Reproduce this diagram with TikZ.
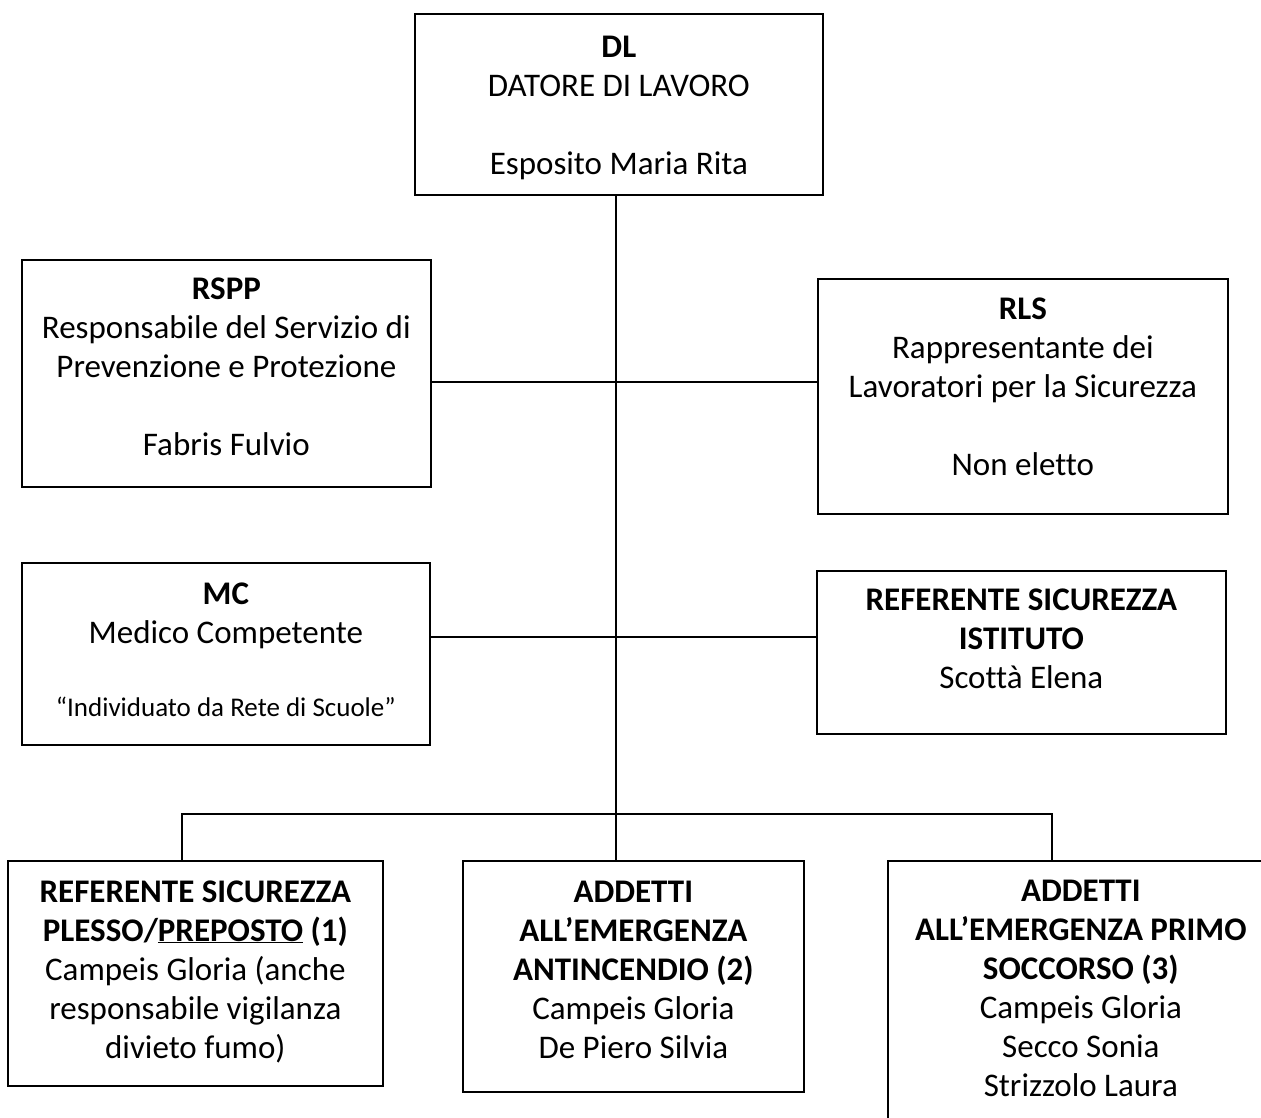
\documentclass[tikz,border=0pt]{standalone}
\usepackage{fontspec}
\setmainfont{Carlito}[Ligatures=CommonOff]
\begin{document}
\begin{tikzpicture}[x=1pt,y=-1pt,
  box/.style={draw, line width=1.7pt, inner sep=0pt, anchor=north west},
  txt/.style={align=center, inner sep=0pt, anchor=base, font=\fontsize{33}{39}\selectfont},
  smalltxt/.style={align=center, inner sep=0pt, anchor=base, font=\fontsize{27}{31}\selectfont},
  conn/.style={line width=1.3pt}]
\useasboundingbox (0,0) rectangle (1261,1117);
\clip (0,0) rectangle (1261,1117);
% boxes
\node[box, minimum width=408pt, minimum height=181pt] (dl) at (414,13) {};
\node[box, minimum width=409pt, minimum height=227pt] (rspp) at (21,259) {};
\node[box, minimum width=410pt, minimum height=235pt] (rls) at (817,278) {};
\node[box, minimum width=408pt, minimum height=182pt] (mc) at (21,562) {};
\node[box, minimum width=409pt, minimum height=163pt] (rsi) at (816,570) {};
\node[box, minimum width=375pt, minimum height=225pt] (b1) at (7,860) {};
\node[box, minimum width=341pt, minimum height=231pt] (b2) at (462,860) {};
\node[box, minimum width=386pt, minimum height=275pt] (b3) at (887,860) {};
% connector points
\coordinate (j1) at (616,382);
\coordinate (j2) at (616,637);
\coordinate (bl) at (182,814);
\coordinate (br) at (1052,814);
% connectors
\draw[conn] (j1 |- dl.south) -- (j1 |- b2.north);
\draw[conn] (rspp.east |- j1) -- (rls.west |- j1);
\draw[conn] (mc.east |- j2) -- (rsi.west |- j2);
\draw[conn] (bl |- b1.north) -- (bl) -- (br) -- (br |- b3.north);
% texts (anchored at the baseline of their last line)
\node[txt] (dlt) at ([yshift=-161pt]dl.north) {\textbf{DL}\\ DATORE DI LAVORO\\[39pt] Esposito Maria Rita};
\node[txt] (rsppt) at ([yshift=-196pt]rspp.north) {\textbf{RSPP}\\ Responsabile del Servizio di\\ Prevenzione e Protezione\\[39pt] Fabris Fulvio};
\node[txt] (rlst) at ([yshift=-197pt]rls.north) {\textbf{RLS}\\ Rappresentante dei\\ Lavoratori per la Sicurezza\\[39pt] Non eletto};
\node[txt] (mct) at ([yshift=-81pt]mc.north) {\textbf{MC}\\ Medico Competente};
\node[smalltxt] (mcn) at ([yshift=-154pt]mc.north) {“Individuato da Rete di Scuole”};
\node[txt] (rsit) at ([yshift=-118pt]rsi.north) {\textbf{REFERENTE SICUREZZA}\\ \textbf{ISTITUTO}\\ Scottà Elena};
\node[txt] (b1t) at ([yshift=-198pt]b1.north) {\textbf{REFERENTE SICUREZZA}\\ \textbf{PLESSO/\underline{PREPOSTO} (1)}\\ Campeis Gloria (anche\\ responsabile vigilanza\\ divieto fumo)};
\node[txt] (b2t) at ([yshift=-198pt]b2.north) {\textbf{ADDETTI}\\ \textbf{ALL’EMERGENZA}\\ \textbf{ANTINCENDIO (2)}\\ Campeis Gloria\\ De Piero Silvia};
\node[txt] (b3t) at ([yshift=-236pt]b3.north) {\textbf{ADDETTI}\\ \textbf{ALL’EMERGENZA PRIMO}\\ \textbf{SOCCORSO (3)}\\ Campeis Gloria\\ Secco Sonia\\ Strizzolo Laura};
\end{tikzpicture}
\end{document}
